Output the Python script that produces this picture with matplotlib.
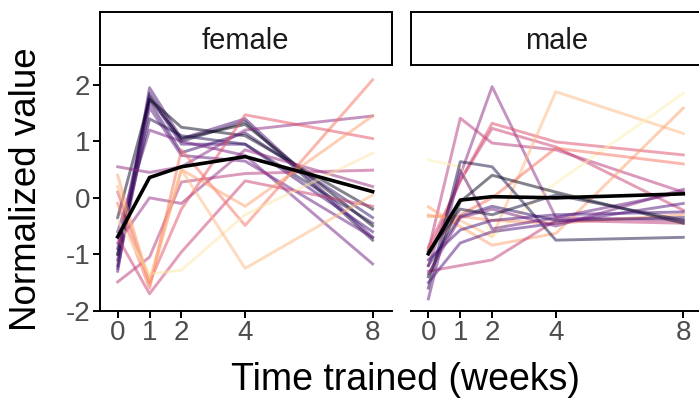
import numpy as np
import matplotlib.pyplot as plt

plt.rcParams['font.family'] = ['Liberation Sans', 'DejaVu Sans']
plt.rcParams['axes.unicode_minus'] = False

# weeks trained
weeks = [0, 1, 2, 4, 8]

# female: colour value (magma scale) and normalized values per week
female_col = [0.25, 0.12, 0.04, 0.18, 0.22, 0.30, 0.33, 0.15, 0.06,
              0.40, 0.50, 0.42, 0.55, 0.62, 0.70, 0.80, 0.95, 0.85]
female_vals = [
    [-1.30, 1.95, 1.05, 1.40, -0.70],
    [-1.20, 1.85, 1.00, 1.35, -0.75],
    [-1.00, 1.75, 1.05, 1.30, -0.50],
    [-1.10, 1.70, 0.80, 1.15, -0.35],
    [-0.90, 1.80, 0.95, 0.95, -0.60],
    [-1.25, 1.60, 0.75, 0.65, -0.70],
    [-0.60, 1.20, 1.00, 0.75, -1.17],
    [-1.00, 1.40, 1.10, 0.95, -0.45],
    [-0.35, 1.75, 1.25, 1.10, -0.20],
    [0.55, 0.45, 0.55, 1.20, 1.45],
    [-1.49, -1.05, 0.28, 0.43, 0.49],
    [-0.80, 0.00, -0.10, 0.85, 0.20],
    [-0.70, -1.70, -0.96, 0.30, -0.15],
    [0.10, -1.50, -0.20, 1.47, 1.05],
    [-0.10, -1.60, 0.85, -0.49, 2.09],
    [0.40, -1.55, 0.50, -0.15, 1.45],
    [-0.40, -1.35, -1.28, -0.30, 0.79],
    [0.20, -1.45, 0.50, -1.25, 0.05],
]
female_mean = [-0.69, 0.36, 0.55, 0.73, 0.11]

# male
male_col = [0.40, 0.50, 0.60, 0.55, 0.85, 0.97, 0.80, 0.70, 0.78,
            0.52, 0.12, 0.30, 0.05, 0.22, 0.18, 0.25, 0.35, 0.10]
male_vals = [
    [-1.20, 0.40, 1.97, -0.35, -0.40],
    [-0.93, 1.41, 0.97, 0.85, 0.10],
    [-0.87, 0.30, 1.32, 0.99, 0.76],
    [-1.00, 0.30, 1.23, 0.90, -0.22],
    [-0.30, -0.40, -0.69, 1.88, 1.14],
    [0.67, 0.55, -0.69, 0.26, 1.85],
    [-0.16, -0.51, -0.84, -0.63, 1.59],
    [-0.90, -0.30, 0.00, 0.88, 0.60],
    [-0.33, -0.33, -0.40, -0.45, -0.30],
    [-1.30, -1.20, -1.10, -0.40, -0.45],
    [-1.60, 0.64, 0.55, -0.75, -0.70],
    [-1.79, 0.49, -0.55, -0.35, 0.10],
    [-1.40, -0.07, 0.40, 0.10, -0.45],
    [-1.10, -0.57, -0.40, -0.30, -0.25],
    [-1.20, -0.33, -0.15, -0.40, -0.35],
    [-1.50, -0.80, -0.60, -0.45, -0.10],
    [-1.35, -0.35, -0.20, -0.50, 0.15],
    [-0.95, -0.20, -0.30, 0.05, -0.40],
]
male_mean = [-0.99, -0.04, 0.02, 0.00, 0.07]

panels = [("female", female_vals, female_col, female_mean),
          ("male", male_vals, male_col, male_mean)]

fig = plt.figure(figsize=(6.99, 4.01), dpi=100)
cmap = plt.get_cmap('magma')
W, H = 699, 401
lefts = [100, 410.7]
pw = 291.7
tick_grey = '#4D4D4D'

for i, (name, vals, cols, mean) in enumerate(panels):
    ax = fig.add_axes([lefts[i] / W, (H - 310.7) / H, pw / W, (310.7 - 68) / H])
    for v, c in zip(vals, cols):
        ax.plot(weeks, v, color=cmap(c), alpha=0.5, lw=2.1)
    ax.plot(weeks, mean, color='black', lw=2.6)
    ax.set_xlim(-0.555, 8.6)
    ax.set_ylim(-2, 2.3)
    ax.set_xticks(weeks)
    ax.set_yticks([-2, -1, 0, 1, 2])
    for s in ['top', 'right']:
        ax.spines[s].set_visible(False)
    ax.spines['bottom'].set_linewidth(1.4)
    ax.spines['left'].set_linewidth(1.4)
    ax.tick_params(length=5, width=1.4, labelsize=20, labelcolor=tick_grey, pad=2)
    if i == 1:
        ax.spines['left'].set_visible(False)
        ax.tick_params(axis='y', left=False, labelleft=False)
    # facet strip
    sax = fig.add_axes([lefts[i] / W, (H - 65) / H, pw / W, 53.3 / H])
    sax.set_xticks([])
    sax.set_yticks([])
    for s in sax.spines.values():
        s.set_linewidth(1.4)
    sax.text(0.5, 0.45, name, ha='center', va='center', fontsize=21,
             color='#1A1A1A', transform=sax.transAxes)

fig.text(27 / W, (H - 189) / H, 'Normalized value', rotation=90,
         ha='center', va='center', fontsize=26.5)
fig.text(405 / W, (H - 380) / H, 'Time trained (weeks)',
         ha='center', va='center', fontsize=27)

fig.savefig('out.png', dpi=100)
